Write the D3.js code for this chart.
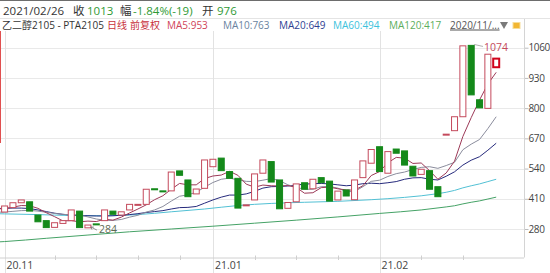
<!DOCTYPE html>
<html>
<head>
<meta charset="utf-8">
<script src="https://cdn.jsdelivr.net/npm/d3@7"></script>
<style>
  body { margin: 0; background: #fff; }
  svg { display: block; font-family: "Open Sans", "Noto Sans CJK SC", sans-serif; }
</style>
</head>
<body>
<script>
// daily candles, 2020/11/27 .. 2021/02/26 (60 sessions)
const opens = [353, 372, 393, 397, 340, 316, 287, 304, 316, 357,
  285, 302, 316, 357, 340, 362, 385, 386, 453, 444,
  444, 530, 491, 431, 455, 548, 585, 527, 498, 382,
  405, 520, 570, 491, 369, 397, 479, 453, 501, 486,
  405, 448, 406, 501, 563, 634, 520, 624, 616, 550,
  515, 531, 462, 687, 703, 763, 1070, 836, 799, 976];
const closes = [379, 393, 405, 357, 311, 286, 307, 316, 362, 286,
  297, 301, 362, 343, 354, 386, 386, 451, 452, 443,
  525, 511, 419, 452, 577, 580, 531, 498, 370, 384,
  517, 577, 482, 367, 394, 474, 451, 494, 479, 400,
  443, 422, 491, 573, 622, 527, 613, 606, 555, 508,
  537, 451, 419, 688, 763, 1068, 857, 801, 1032, 1013];

// moving averages, index -1 .. 59
const ma5 = [366, 368, 374, 381, 380, 369, 350, 333, 315, 316, 311, 314, 312, 322, 318, 331, 349, 366, 384, 406,
  423, 451, 476, 470, 470, 497, 508, 512, 528, 511, 473, 460, 469, 466, 465, 467, 459, 434, 436, 458,
  460, 453, 448, 447, 466, 510, 527, 565, 588, 585, 562, 564, 531, 494, 521, 572, 678, 759, 835, 904, 954];
const ma10 = [352, 353, 356, 359, 360, 357, 352, 347, 343, 341, 340, 332, 323, 318, 317, 321, 331, 339, 353, 362,
  377, 400, 421, 427, 438, 460, 480, 494, 499, 491, 485, 484, 490, 497, 488, 470, 459, 451, 451, 462,
  463, 456, 441, 441, 462, 485, 490, 506, 518, 525, 536, 545, 548, 541, 553, 567, 621, 645, 665, 712, 763];
const ma20 = [368, 369, 370, 370, 368, 362, 355, 348, 343, 340, 338, 337, 336, 336, 337, 339, 342, 346, 351, 355,
  359, 366, 372, 373, 377, 391, 405, 417, 426, 426, 431, 442, 456, 462, 463, 465, 469, 473, 475, 476,
  474, 470, 466, 469, 475, 477, 475, 479, 484, 494, 500, 501, 494, 491, 507, 526, 555, 576, 591, 619, 649];
const ma60Idx = [-1, 0, 4, 8, 12, 16, 20, 24, 28, 32, 36, 40, 44, 48, 52, 53, 54, 55, 56, 57, 58, 59];
const ma60 = [346, 345, 342, 338, 337, 342, 354, 366, 381, 390, 395, 399, 406, 416, 432, 438, 446, 457, 466, 474, 484, 494];
const ma120Idx = [-1, 0, 5, 10, 15, 20, 25, 30, 35, 40, 45, 50, 53, 54, 55, 56, 57, 58, 59];
const ma120 = [224, 226, 240, 254, 268, 280, 292, 305, 318, 332, 347, 362, 375, 380, 388, 395, 401, 409, 417];

const yTicks = [280, 410, 540, 670, 800, 930, 1060];
const weekIdx = [6, 11, 16, 21, 30, 35, 40, 50, 55];
const monthIdx = [0, 25, 45];
const monthLabels = ["20.11", "21.01", "21.02"];
const highIdx = 56, highVal = 1074;
const lowIdx = 10, lowVal = 284;

const w = 550, h = 273;
const plotTop = 31, plotBottom = 257.5, plotRight = 524;
const upColor = "#c44a5c", downColor = "#14891a";

const x = d3.scaleLinear().domain([0, 59]).range([4.6, 496.2]);
const y = d3.scaleLinear().domain([280, 1060]).range([229, 47.7]);

const svg = d3.select("body").append("svg")
  .attr("width", w).attr("height", h);

svg.append("defs").append("clipPath").attr("id", "plot")
  .append("rect").attr("x", 0).attr("y", plotTop).attr("width", plotRight).attr("height", plotBottom - plotTop);

// ---- header rows
svg.append("line").attr("x1", 0).attr("x2", w).attr("y1", 0.5).attr("y2", 0.5).attr("stroke", "#6d6d6d");
svg.append("line").attr("x1", 0).attr("x2", w).attr("y1", 18.5).attr("y2", 18.5).attr("stroke", "#e4e4e4");

const row1 = [
  { t: "2021/02/26", x: 3, c: "#333" },
  { t: "收", x: 73, c: "#333" },
  { t: "1013", x: 87, c: "#2f9a35" },
  { t: "幅", x: 120, c: "#333" },
  { t: "-1.84%(-19)", x: 133, c: "#2f9a35" },
  { t: "开", x: 202, c: "#333" },
  { t: "976", x: 217, c: "#2f9a35" }
];
svg.selectAll("text.r1").data(row1).join("text")
  .attr("class", "r1").attr("x", d => d.x).attr("y", 14.5)
  .attr("font-size", 11.5).attr("fill", d => d.c).text(d => d.t);

const row2 = [
  { t: "乙二醇2105 - PTA2105", x: 2, c: "#333" },
  { t: "日线", x: 107, c: "#c8323c" },
  { t: "前复权", x: 130, c: "#c8323c" },
  { t: "MA5:953", x: 167, c: "#d04459" },
  { t: "MA10:763", x: 223, c: "#6a83a0" },
  { t: "MA20:649", x: 279, c: "#2f3f93" },
  { t: "MA60:494", x: 333, c: "#3cc2dc" },
  { t: "MA120:417", x: 389, c: "#5cae5c" },
  { t: "2020/11/...", x: 450, c: "#555" }
];
svg.selectAll("text.r2").data(row2).join("text")
  .attr("class", "r2").attr("x", d => d.x).attr("y", 28.5)
  .attr("font-size", 10).attr("fill", d => d.c)
  .attr("text-decoration", (d, i) => i === row2.length - 1 ? "underline" : null)
  .text(d => d.t);
svg.append("path").attr("d", "M500,22 L508,22 L504,29 Z").attr("fill", "#7a7a7a");
svg.append("rect").attr("x", 513).attr("y", 22.5).attr("width", 7).attr("height", 6)
  .attr("fill", "#f2b632").attr("stroke", "#f7dd9a").attr("stroke-width", 1);

// ---- grid
svg.selectAll("line.hg").data(yTicks).join("line")
  .attr("class", "hg").attr("x1", 0).attr("x2", plotRight)
  .attr("y1", d => Math.round(y(d)) + 0.5).attr("y2", d => Math.round(y(d)) + 0.5)
  .attr("stroke", "#e9e9e9");
svg.selectAll("line.vg").data(monthIdx).join("line")
  .attr("class", "vg")
  .attr("x1", d => Math.round(x(d)) + 0.5).attr("x2", d => Math.round(x(d)) + 0.5)
  .attr("y1", plotTop).attr("y2", h)
  .attr("stroke", "#e2e2e2");
svg.append("line").attr("x1", 0.5).attr("x2", 0.5).attr("y1", plotTop).attr("y2", 143)
  .attr("stroke", "#e05050");

// right axis
const yAxis = d3.axisRight(y).tickValues(yTicks).tickFormat(d3.format("d")).tickSize(4).tickPadding(0);
const ya = svg.append("g").attr("transform", `translate(${plotRight + 0.5},0)`).call(yAxis);
ya.select(".domain").remove();
ya.selectAll("line").attr("stroke", "#bdbdbd");
ya.selectAll("text").attr("font-size", 10).attr("fill", "#444")
  .attr("letter-spacing", -0.4)
  .attr("font-family", "Open Sans, sans-serif");
svg.append("line").attr("x1", plotRight + 0.5).attr("x2", plotRight + 0.5).attr("y1", 19).attr("y2", plotBottom)
  .attr("stroke", "#d4d4d4");

// bottom axis
svg.append("line").attr("x1", 0).attr("x2", plotRight).attr("y1", plotBottom + 0.5).attr("y2", plotBottom + 0.5)
  .attr("stroke", "#d0d0d0");
svg.selectAll("line.wk").data(weekIdx).join("line")
  .attr("class", "wk")
  .attr("x1", d => Math.round(x(d)) + 0.5).attr("x2", d => Math.round(x(d)) + 0.5)
  .attr("y1", plotBottom - 2).attr("y2", plotBottom + 2.5).attr("stroke", "#cfcfcf");
svg.selectAll("text.mo").data(monthIdx).join("text")
  .attr("class", "mo").attr("x", d => x(d) + 2).attr("y", 268.5)
  .attr("font-size", 10.5).attr("fill", "#444")
  .text((d, i) => monthLabels[i]);

// ---- moving averages
const plot = svg.append("g").attr("clip-path", "url(#plot)");
const line = d3.line().x(d => x(d[0])).y(d => y(d[1]));
const full = arr => arr.map((v, k) => [k - 1, v]);
const sparse = (idx, arr) => arr.map((v, k) => [idx[k], v]);
const maLines = [
  { pts: sparse(ma120Idx, ma120), c: "#45a266", curve: true },
  { pts: sparse(ma60Idx, ma60), c: "#52c0d4", curve: true },
  { pts: full(ma20), c: "#262a7c" },
  { pts: full(ma10), c: "#8a8c9c" },
  { pts: full(ma5), c: "#9c3a58" }
];
maLines.forEach(m => {
  plot.append("path")
    .attr("d", line.curve(m.curve ? d3.curveMonotoneX : d3.curveLinear)(m.pts))
    .attr("fill", "none").attr("stroke", m.c).attr("stroke-width", 1);
});

// ---- candles
const idx = d3.range(opens.length);
const last = opens.length - 1;
plot.selectAll("rect.k").data(idx).join("rect")
  .attr("class", "k")
  .attr("x", i => x(i) - 3).attr("width", 6)
  .attr("y", i => y(Math.max(opens[i], closes[i])))
  .attr("height", i => Math.max(1, Math.abs(y(opens[i]) - y(closes[i]))))
  .attr("fill", i => closes[i] >= opens[i] ? "#fff" : downColor)
  .attr("stroke", i => i === last ? "#d0021b" : (closes[i] >= opens[i] ? upColor : downColor))
  .attr("stroke-width", i => i === last ? 2 : 1);

// extreme labels
svg.append("line")
  .attr("x1", x(highIdx) + 3).attr("y1", y(highVal))
  .attr("x2", 483).attr("y2", y(highVal) + 2)
  .attr("stroke", "#9a9a9a").attr("stroke-width", 0.8);
svg.append("text").attr("x", 484).attr("y", y(highVal) + 7)
  .attr("font-size", 10.5).attr("fill", "#c44a5c").text(highVal);

svg.append("path")
  .attr("d", `M${x(lowIdx) + 9},${y(lowVal) + 2} L${x(lowIdx) + 3},${y(lowVal) - 1}`
    + ` M${x(lowIdx) + 3},${y(lowVal) - 1} l3,0 M${x(lowIdx) + 3},${y(lowVal) - 1} l1,2.5`)
  .attr("stroke", "#777").attr("fill", "none").attr("stroke-width", 0.8);
svg.append("text").attr("x", x(lowIdx) + 11).attr("y", y(lowVal) + 5)
  .attr("font-size", 10.5).attr("fill", "#5d6b55").text(lowVal);
</script>
</body>
</html>
